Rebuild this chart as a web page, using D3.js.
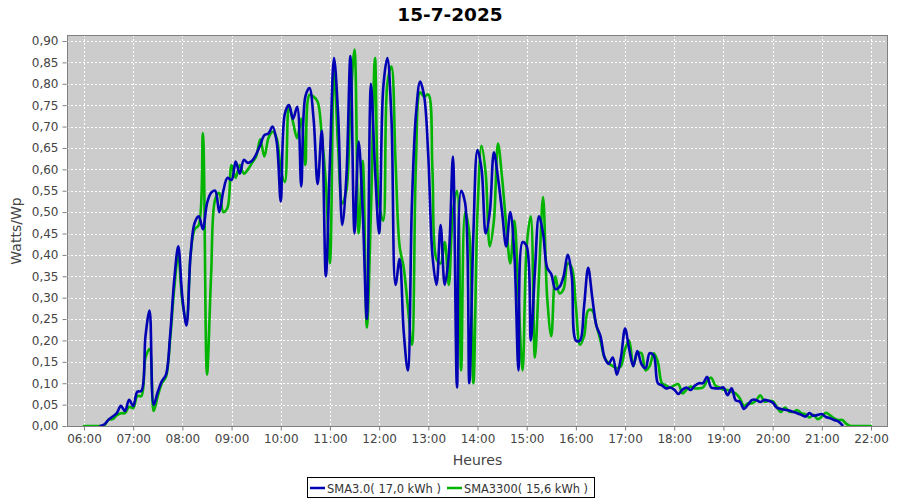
<!DOCTYPE html>
<html><head><meta charset="utf-8">
<script src="https://cdn.jsdelivr.net/npm/d3@7"></script>
<style>body{margin:0;background:#fff}svg{display:block}text{font-family:"DejaVu Sans",sans-serif}</style>
</head><body><svg id="c" width="900" height="500"></svg>
<script>
const chartTitle = "15-7-2025";
const xAxisTitle = "Heures";
const yAxisTitle = "Watts/Wp";
const xTickLabels = ["06:00","07:00","08:00","09:00","10:00","11:00","12:00","13:00","14:00","15:00","16:00","17:00","18:00","19:00","20:00","21:00","22:00"];
const yTickValues = [0,0.05,0.10,0.15,0.20,0.25,0.30,0.35,0.40,0.45,0.50,0.55,0.60,0.65,0.70,0.75,0.80,0.85,0.90];
const seriesNames = ["SMA3.0( 17,0 kWh )","SMA3300( 15,6 kWh )"];
const startTime = "06:00";
const stepMinutes = 5;

// SMA3.0 (blue), 5-minute samples from 06:00
const sma30 = [null,null,null,null,0,
0.004,0.015,0.022,0.03,0.047,0.035,0.061,0.047,0.08,0.082,
0.21,0.27,0.05,0.08,0.105,0.12,0.21,0.34,0.42,0.30,
0.235,0.40,0.475,0.49,0.46,0.52,0.545,0.55,0.50,0.55,
0.58,0.575,0.618,0.59,0.622,0.615,0.62,0.635,0.657,0.68,
0.684,0.70,0.665,0.525,0.73,0.75,0.718,0.746,0.56,0.77,
0.79,0.719,0.565,0.69,0.35,0.62,0.86,0.727,0.47,0.58,
0.865,0.45,0.665,0.50,0.25,0.80,0.60,0.45,0.79,0.86,
0.72,0.33,0.39,0.22,0.13,0.52,0.73,0.805,0.77,0.63,
0.40,0.33,0.47,0.33,0.40,0.63,0.09,0.55,0.52,0.10,
0.45,0.645,0.60,0.45,0.50,0.64,0.58,0.50,0.42,0.50,
0.40,0.13,0.43,0.42,0.20,0.36,0.49,0.45,0.37,0.355,
0.32,0.325,0.35,0.40,0.35,0.20,0.20,0.28,0.37,0.30,
0.235,0.21,0.16,0.145,0.16,0.12,0.16,0.228,0.18,0.14,
0.175,0.145,0.135,0.17,0.165,0.10,0.095,0.088,0.09,0.085,
0.075,0.085,0.09,0.084,0.094,0.10,0.10,0.115,0.09,0.088,
0.088,0.09,0.072,0.088,0.06,0.057,0.04,0.05,0.061,0.061,
0.056,0.061,0.059,0.055,0.043,0.04,0.038,0.036,0.033,0.03,
0.026,0.022,0.03,0.024,0.026,0.028,0.021,0.018,0.014,0.011,
0.002,null,null,null,null,null,null,null];

// SMA3300 (green), 5-minute samples from 06:00
const sma3300 = [0,0,0,0,0,
0.002,0.015,0.016,0.025,0.03,0.03,0.045,0.042,0.07,0.07,
0.16,0.18,0.035,0.07,0.10,0.115,0.20,0.32,0.40,0.29,
0.245,0.40,0.46,0.47,0.685,0.12,0.35,0.53,0.545,0.50,
0.51,0.61,0.58,0.61,0.59,0.60,0.615,0.63,0.67,0.63,
0.673,0.688,0.673,0.60,0.57,0.75,0.71,0.673,0.719,0.61,
0.774,0.77,0.758,0.68,0.57,0.38,0.84,0.65,0.52,0.55,
0.75,0.88,0.45,0.62,0.23,0.50,0.86,0.52,0.48,0.80,
0.84,0.62,0.42,0.37,0.28,0.19,0.62,0.78,0.77,0.775,
0.60,0.39,0.38,0.43,0.33,0.50,0.55,0.13,0.50,0.45,
0.10,0.50,0.655,0.59,0.42,0.48,0.66,0.58,0.47,0.38,
0.48,0.30,0.13,0.42,0.49,0.16,0.35,0.535,0.30,0.21,
0.35,0.31,0.32,0.38,0.37,0.28,0.19,0.21,0.27,0.27,
0.235,0.20,0.16,0.147,0.14,0.135,0.14,0.18,0.20,0.14,
0.17,0.17,0.13,0.14,0.17,0.15,0.10,0.095,0.09,0.095,
0.098,0.076,0.085,0.092,0.088,0.088,0.09,0.105,0.113,0.095,
0.09,0.085,0.084,0.08,0.076,0.065,0.047,0.053,0.053,0.06,
0.072,0.057,0.059,0.058,0.045,0.033,0.043,0.034,0.033,0.037,
0.03,0.027,0.02,0.026,0.016,0.022,0.031,0.025,0.018,0.014,
0.014,0.005,0,0,0,0,0,0];

const colors = ["#0000b4","#00b400"];

const svg = d3.select("#c");
const P = {left:67, right:888, top:35, bottom:427};

const toMin = s => { const [h,m] = s.split(":").map(Number); return h*60+m; };
const t0 = toMin(startTime);
const x = d3.scaleLinear().domain([toMin(xTickLabels[0]), toMin(xTickLabels[xTickLabels.length-1])]).range([84, 871]);
const y = d3.scaleLinear().domain([0, 0.9]).range([426, 41]);

svg.append("rect").attr("width",900).attr("height",500).attr("fill","#fff");
svg.append("rect").attr("x",P.left).attr("y",P.top).attr("width",P.right-P.left).attr("height",P.bottom-P.top).attr("fill","#cccccc");

const grid = svg.append("g").attr("stroke","#ffffff").attr("stroke-width",1).attr("stroke-dasharray","2,2");
yTickValues.forEach(v => grid.append("line").attr("x1",P.left).attr("x2",P.right).attr("y1",Math.round(y(v))+0.5).attr("y2",Math.round(y(v))+0.5));
xTickLabels.forEach(l => grid.append("line").attr("y1",P.top).attr("y2",P.bottom).attr("x1",Math.round(x(toMin(l)))+0.5).attr("x2",Math.round(x(toMin(l)))+0.5));

svg.append("defs").append("clipPath").attr("id","clip").append("rect")
  .attr("x",P.left).attr("y",P.top).attr("width",P.right-P.left).attr("height",P.bottom-P.top);

const line = d3.line()
  .defined(d => d.v !== null)
  .x(d => x(d.t)).y(d => y(d.v))
  .curve(d3.curveCatmullRom.alpha(0.5));

const mk = arr => arr.map((v,i) => ({t: t0 + i*stepMinutes, v}));
const series = [mk(sma30), mk(sma3300)];

const gl = svg.append("g").attr("clip-path","url(#clip)");
[1,0].forEach(k => {
  gl.append("path").datum(series[k]).attr("d", line)
    .attr("fill","none").attr("stroke",colors[k]).attr("stroke-width",2.6)
    .attr("stroke-linejoin","round").attr("stroke-linecap","round");
});

svg.append("rect").attr("x",P.left+0.5).attr("y",P.top+0.5).attr("width",P.right-P.left-1).attr("height",P.bottom-P.top-1)
  .attr("fill","none").attr("stroke","#808080").attr("stroke-width",1);

const yAxis = d3.axisLeft(y).tickValues(yTickValues).tickSize(4).tickPadding(4)
  .tickFormat(d => d3.format(".2f")(d).replace(".", ","));
const gy = svg.append("g").attr("transform",`translate(${P.left-0.5},0)`).call(yAxis);
gy.select(".domain").remove();
gy.selectAll(".tick line").attr("stroke","#808080");
gy.selectAll(".tick text").attr("fill","#444").style("font-size","12px").style("font-family","DejaVu Sans");

const xAxis = d3.axisBottom(x).tickValues(xTickLabels.map(toMin)).tickSize(4).tickPadding(4)
  .tickFormat((d,i) => xTickLabels[i]);
const gx = svg.append("g").attr("transform",`translate(0,${P.bottom-0.5})`).call(xAxis);
gx.select(".domain").remove();
gx.selectAll(".tick line").attr("stroke","#808080");
gx.selectAll(".tick text").attr("fill","#444").style("font-size","12px").style("font-family","DejaVu Sans");

svg.append("text").attr("x",450).attr("y",21).attr("text-anchor","middle")
  .style("font-size","18.5px").style("font-weight","bold").attr("fill","#000").text(chartTitle);
svg.append("text").attr("x",(P.left+P.right)/2).attr("y",465).attr("text-anchor","middle")
  .style("font-size","14px").attr("fill","#444").text(xAxisTitle);
svg.append("text").attr("transform",`translate(21,${(P.top+P.bottom)/2}) rotate(-90)`).attr("text-anchor","middle")
  .style("font-size","14px").attr("fill","#444").text(yAxisTitle);

// legend
const lg = svg.append("g");
lg.append("rect").attr("x",307.5).attr("y",477.5).attr("width",287).attr("height",20).attr("fill","#fff").attr("stroke","#000");
const items = [{x:310, c:colors[0], t:seriesNames[0], w:114}, {x:447, c:colors[1], t:seriesNames[1], w:124}];
items.forEach(it => {
  lg.append("line").attr("x1",it.x).attr("x2",it.x+15).attr("y1",488).attr("y2",488).attr("stroke",it.c).attr("stroke-width",2.5);
  lg.append("text").attr("x",it.x+17).attr("y",492.5).style("font-size","12px").attr("fill","#333")
    .attr("textLength",it.w).attr("lengthAdjust","spacingAndGlyphs").text(it.t);
});
</script></body></html>
